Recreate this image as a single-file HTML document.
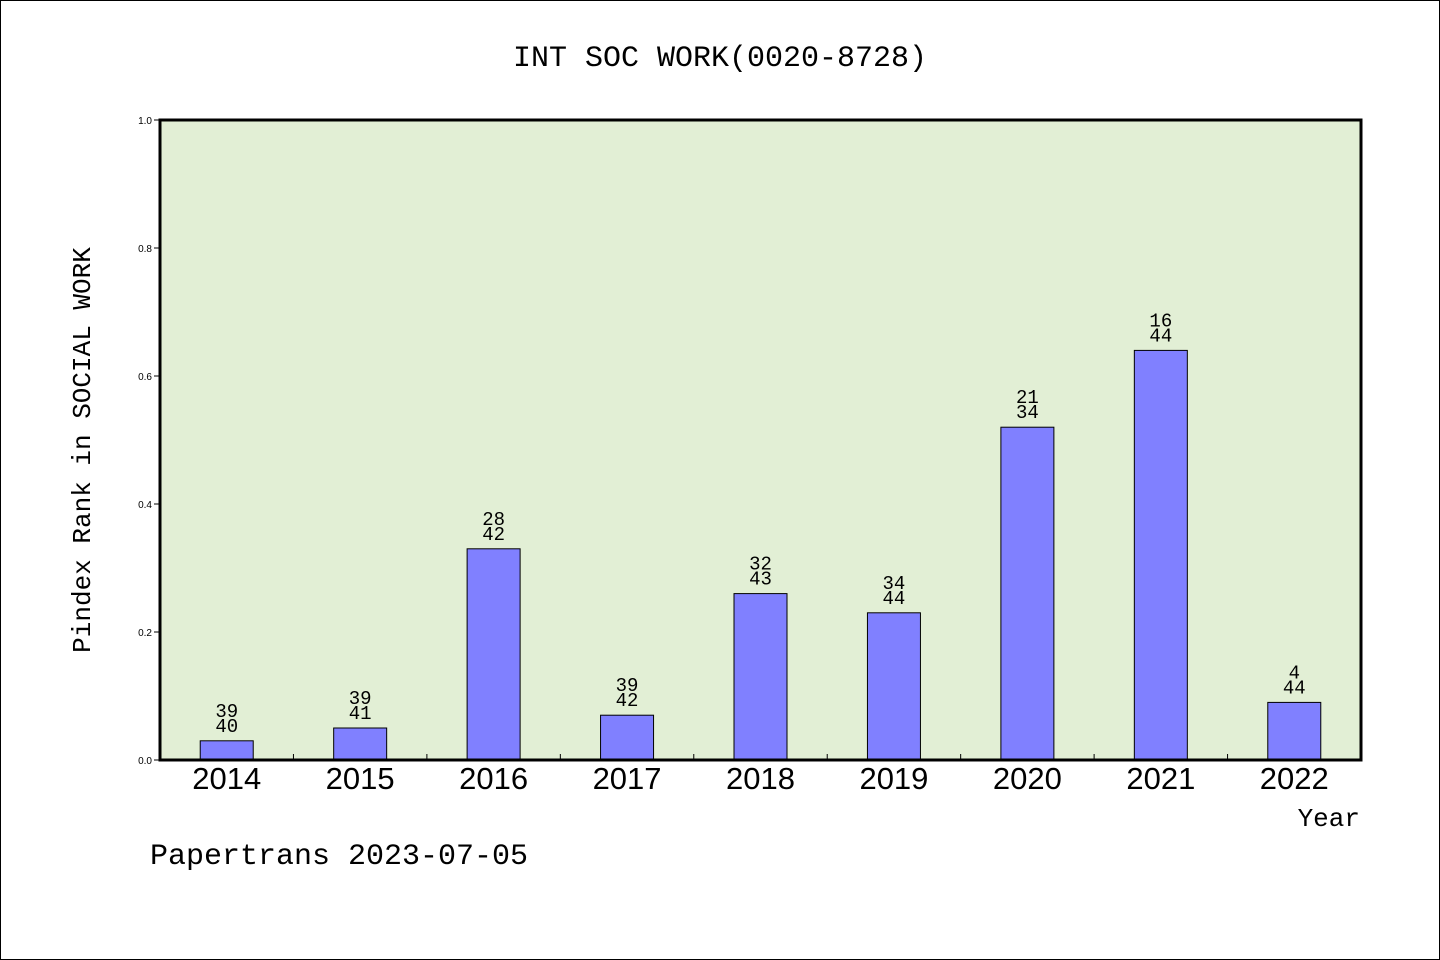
<!DOCTYPE html>
<html><head><meta charset="utf-8"><style>
body{margin:0;background:#fff;}
svg{display:block;font-family:"Liberation Mono","DejaVu Sans Mono",monospace;}
</style></head><body>
<svg id="chart" width="1440" height="960">
<rect x="0.5" y="0.5" width="1439" height="959" fill="#fff" stroke="#000"/>
<text x="720" y="66" text-anchor="middle" font-size="30">INT SOC WORK(0020-8728)</text>
<rect x="160" y="120" width="1201" height="640" fill="#e2efd5"/>
<g id="bars"></g>
<g id="yticks"></g>
<rect x="160" y="120" width="1201" height="640" fill="none" stroke="#000" stroke-width="3"/>
<text transform="translate(90,450) rotate(-90)" text-anchor="middle" font-size="26">Pindex Rank in SOCIAL WORK</text>
<text x="1360" y="826" text-anchor="end" font-size="26">Year</text>
<text x="150" y="864" font-size="30">Papertrans 2023-07-05</text>
</svg>
<script>
const years=["2014","2015","2016","2017","2018","2019","2020","2021","2022"];
const values=[0.03,0.05,0.33,0.07,0.26,0.23,0.52,0.64,0.09];
const ranks=["39","39","28","39","32","34","21","16","4"];
const totals=["40","41","42","42","43","44","34","44","44"];
const yTickLabels=["0.0","0.2","0.4","0.6","0.8","1.0"];
const yTickValues=[0,0.2,0.4,0.6,0.8,1.0];
const X0=160,W=1201,Y0=760,H=640;
const step=W/years.length;
const xC=i=>X0+step*(i+0.5);
const yS=v=>Y0-v*H;
const NS="http://www.w3.org/2000/svg";
const bars=document.getElementById('bars'),yt=document.getElementById('yticks');
function mk(tag,attrs,parent,txt){const e=document.createElementNS(NS,tag);for(const k in attrs)e.setAttribute(k,attrs[k]);if(txt!==undefined)e.textContent=txt;parent.appendChild(e);return e;}
years.forEach((y,i)=>{
  const r=mk('rect',{x:xC(i)-26.5,y:yS(values[i]),width:53,height:Y0-yS(values[i]),fill:'#8080ff',stroke:'#000','stroke-width':1},bars);
  
  
  const t1=mk('text',{x:xC(i),y:yS(values[i])-24,'text-anchor':'middle','font-size':19},bars,ranks[i]);
  
  
  const t2=mk('text',{x:xC(i),y:yS(values[i])-9,'text-anchor':'middle','font-size':19},bars,totals[i]);
  
  
  const xl=mk('text',{x:xC(i),y:789,'text-anchor':'middle','font-size':31,'font-family':'Liberation Sans, sans-serif'},bars,y);
  
  
  if(i>0){const tk=mk('line',{x1:X0+step*i,x2:X0+step*i,y1:Y0,y2:Y0-6,stroke:'#000'},bars);
  
  }
});
yTickValues.forEach((v,i)=>{
  const l=mk('line',{x1:X0-6,x2:X0,y1:yS(v),y2:yS(v),stroke:'#000'},yt);
  
  
  const t=mk('text',{x:X0-8,y:yS(v)+4,'text-anchor':'end','font-size':10,'font-family':'Liberation Sans, sans-serif'},yt,yTickLabels[i]);
  
  
});
</script>
</body></html>
